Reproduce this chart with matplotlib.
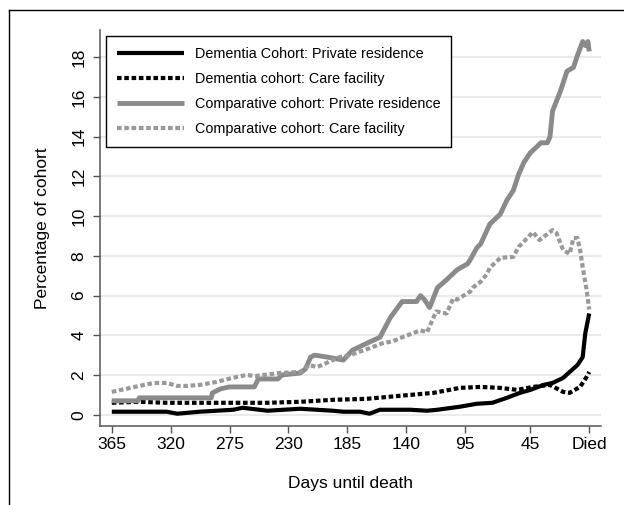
import numpy as np
import matplotlib
matplotlib.use("Agg")
import matplotlib.pyplot as plt
from matplotlib.lines import Line2D

plt.rcParams['font.family'] = ['Liberation Sans', 'DejaVu Sans']

# days until death / percentage of cohort
comp_priv_days = [365, 345, 344, 289, 288, 282, 275, 256, 253, 238, 235, 221, 217, 213, 210,
                  200, 188, 181, 170, 160, 152, 143, 132, 129, 126, 122, 116, 109, 101, 93,
                  91, 86, 83, 76, 68, 63, 58, 54, 50, 45, 40, 37, 32, 30, 28, 22, 17, 12,
                  9, 5, 3, 1, 0]
comp_priv_pct = [0.7, 0.7, 0.85, 0.85, 1.1, 1.3, 1.4, 1.4, 1.8, 1.8, 2.0, 2.1, 2.3, 2.9, 3.0,
                 2.9, 2.75, 3.25, 3.6, 3.9, 4.9, 5.7, 5.7, 6.0, 5.8, 5.4, 6.4, 6.8, 7.3, 7.6,
                 7.8, 8.4, 8.6, 9.6, 10.1, 10.8, 11.3, 12.1, 12.7, 13.2, 13.5, 13.7, 13.7, 14.0,
                 15.3, 16.3, 17.3, 17.5, 18.1, 18.8, 18.6, 18.8, 18.3]

comp_care_days = [365, 344, 333, 323, 315, 308, 298, 285, 273, 262, 255, 237, 221, 214, 208,
                  196, 191, 183, 170, 158, 150, 145, 129, 124, 117, 109, 104, 101, 91, 89,
                  83, 78, 76, 68, 58, 54, 43, 38, 28, 25, 20, 15, 12, 9, 7, 5, 2, 0]
comp_care_pct = [1.15, 1.45, 1.6, 1.6, 1.45, 1.45, 1.5, 1.65, 1.85, 2.0, 1.95, 2.1, 2.15, 2.5, 2.4,
                 2.75, 2.9, 3.0, 3.3, 3.6, 3.7, 3.85, 4.25, 4.15, 5.2, 5.1, 5.85, 5.8, 6.2, 6.4,
                 6.7, 7.1, 7.4, 7.9, 7.95, 8.45, 9.2, 8.8, 9.3, 9.15, 8.3, 8.1, 8.9, 8.9, 8.3,
                 7.45, 6.3, 5.3]

dem_priv_days = [365, 323, 315, 298, 272, 265, 246, 221, 196, 188, 175, 168, 160, 145, 137,
                 124, 116, 99, 86, 74, 63, 53, 45, 35, 28, 20, 15, 9, 5, 3, 0]
dem_priv_pct = [0.15, 0.15, 0.05, 0.15, 0.25, 0.35, 0.2, 0.3, 0.2, 0.15, 0.15, 0.05, 0.25, 0.25,
                0.25, 0.2, 0.25, 0.4, 0.55, 0.6, 0.85, 1.1, 1.25, 1.5, 1.6, 1.85, 2.15, 2.5,
                2.9, 4.1, 5.1]

dem_care_days = [365, 344, 323, 298, 272, 246, 221, 196, 170, 145, 119, 99, 83, 68, 55, 43,
                 30, 20, 15, 7, 2, 0]
dem_care_pct = [0.6, 0.65, 0.6, 0.6, 0.6, 0.6, 0.65, 0.75, 0.8, 0.95, 1.1, 1.35, 1.4, 1.35,
                1.25, 1.4, 1.5, 1.15, 1.1, 1.4, 1.9, 2.15]

xticks = [365, 320, 275, 230, 185, 140, 95, 45, 0]
xticklabels = ['365', '320', '275', '230', '185', '140', '95', '45', 'Died']
yticks = list(range(0, 19, 2))

gray = '#8a8a8a'
dots = (0, (1.1, 0.65))

fig = plt.figure(figsize=(6.24, 5.05), dpi=100)
ax = fig.add_axes([0.1603, 0.1564, 0.8028, 0.7842])

ax.plot(dem_priv_days, dem_priv_pct, color='black', lw=3, solid_capstyle='butt',
        label='Dementia Cohort: Private residence')
ax.plot(dem_care_days, dem_care_pct, color='black', lw=3, ls=dots, dash_capstyle='butt',
        label='Dementia cohort: Care facility')
ax.plot(comp_priv_days, comp_priv_pct, color=gray, lw=3.5, solid_capstyle='butt',
        label='Comparative cohort: Private residence')
ax.plot(comp_care_days, comp_care_pct, color='#999999', lw=3, ls=dots, dash_capstyle='butt',
        label='Comparative cohort: Care facility')

ax.set_xlim(374, -9)
ax.set_ylim(-0.57, 19.38)
ax.set_xticks(xticks)
ax.set_xticklabels(xticklabels)
ax.set_yticks(yticks)

ax.grid(axis='y', color='#e6e6e6', lw=1.2)
ax.set_axisbelow(True)
for s in ['top', 'right']:
    ax.spines[s].set_visible(False)
for s in ['left', 'bottom']:
    ax.spines[s].set_color('#555555')
    ax.spines[s].set_linewidth(1.1)

ax.tick_params(axis='both', labelsize=12.5, length=5, width=1, color='#555555')
ax.tick_params(axis='x', pad=3)
ax.tick_params(axis='y', pad=5, labelrotation=90)
for lab in ax.get_yticklabels():
    lab.set_va('center')

ax.set_xlabel('Days until death', fontsize=12.5)
ax.set_ylabel('Percentage of cohort', fontsize=12.5)
ax.xaxis.set_label_coords(0.5, -0.127)
ax.yaxis.set_label_coords(-0.1, 0.5)

leg = ax.legend(loc='upper left', bbox_to_anchor=(0.012, 0.985), borderaxespad=0,
                fontsize=10.4, handlelength=4.66, handletextpad=0.75, borderpad=0.75,
                labelspacing=0.76, fancybox=False, framealpha=1)
leg.get_frame().set_edgecolor('black')
leg.get_frame().set_linewidth(1)

# outer frame (partly cut off in the reference)
fig.add_artist(Line2D([9 / 624, 1], [1 - 10 / 505, 1 - 10 / 505], color='black', lw=1))
fig.add_artist(Line2D([9 / 624, 9 / 624], [0, 1 - 10 / 505], color='black', lw=1))

fig.savefig('out.png', dpi=100)
